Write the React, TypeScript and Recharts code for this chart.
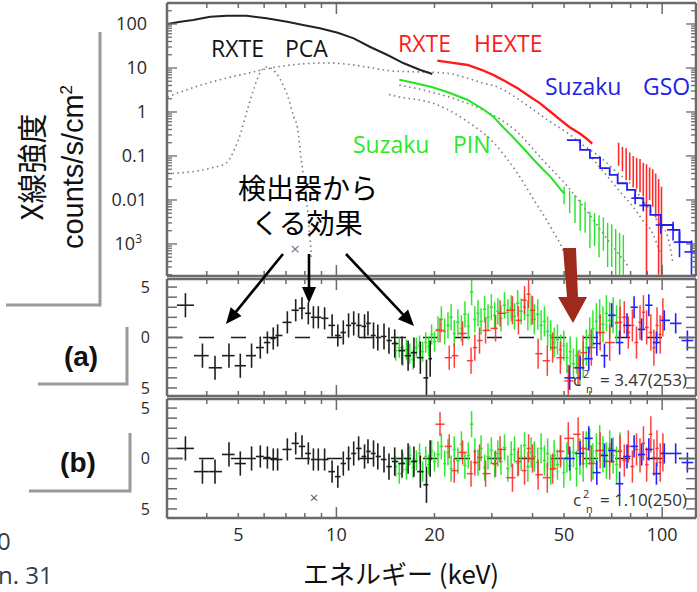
import React from 'react';
import { ComposedChart, Line, Scatter, XAxis, YAxis, ErrorBar, ReferenceLine } from 'recharts';

const W = 697;
const FRAME = '#6a6a6a';
const NUM_FONT = '"Open Sans", "DejaVu Sans", sans-serif';
const JP_FONT = '"Noto Sans CJK JP", "Noto Sans", sans-serif';

// ---------- axes ----------
const X_DOMAIN = [3.02, 127];
const X_TICKS = [4, 5, 6, 7, 8, 9, 10, 20, 30, 40, 50, 60, 70, 80, 90, 100];
const X_LABELS = [5, 10, 20, 50, 100];
const Y_TOP_DOMAIN = [1.87e-4, 300];
const Y_TOP_MAJOR = [0.001, 0.01, 0.1, 1, 10, 100];
const Y_TOP_LABELS = ['10³', '0.01', '0.1', '1', '10', '100'];
const Y_MINOR_MULT = [2, 3, 4, 5, 6, 7, 8, 9];
const Y_DECADES = [1e-4, 1e-3, 1e-2, 1e-1, 1, 10, 100];
const RES_TICKS = [-5, -4, -3, -2, -1, 0, 1, 2, 3, 4, 5];
const RES_LABELS = [-5, 0, 5];
const RES_A_DOMAIN = [-5.8, 5.8];
const RES_B_DOMAIN = [-5.9, 5.9];

// ---------- top panel spectra ----------
const pcaE = [3.03, 3.32, 3.63, 4.1, 4.62, 5.3, 6.1, 7.06, 7.9, 8.9, 10.1, 11.3, 12.7, 14.3, 16.1, 18.1, 19.7];
const pcaV = [100, 113, 123, 146, 154, 154, 135, 113, 95, 80, 63, 47, 30, 20, 12.8, 9, 7.3];

const hexteE = [20.4, 22.5, 25.3, 28, 30.4, 33, 35.9, 39, 42.2, 45.5, 48.7, 52, 56, 58.5, 61];
const hexteV = [14.7, 13.2, 11.7, 9.0, 6.9, 5.0, 3.5, 2.3, 1.57, 1.0, 0.66, 0.45, 0.32, 0.25, 0.19];

const hexteHiE = [73.5, 75.5, 77.5, 79.5, 81.5, 83.5, 85.5, 87.5, 89.5, 91.5, 93.5, 95.5, 97.5, 99.5];
const hexteHiV = [0.11, 0.085, 0.075, 0.06, 0.055, 0.045, 0.04, 0.034, 0.03, 0.024, 0.02, 0.015, 0.011, 0.007];
const hexteHiLo = [0.06, 0.045, 0.03, 0.028, 0.02, 0.018, 0.015, 0.012, 0.0002, 0.01, 0.007, 0.004, 0.0002, 0.0002];
const hexteHiHi = [0.2, 0.16, 0.15, 0.12, 0.1, 0.09, 0.085, 0.07, 0.065, 0.055, 0.05, 0.04, 0.03, 0.02];

const pinE = [15.6, 17.5, 19.6, 22, 25.2, 28, 30.4, 32.5, 34.8, 37.5, 40.4, 43, 45.5, 48, 50];
const pinV = [5.4, 4.5, 3.7, 2.8, 1.9, 1.2, 0.77, 0.45, 0.27, 0.15, 0.081, 0.05, 0.033, 0.02, 0.014];
const pinHiE = [50, 52, 54, 56, 58, 60, 62, 64, 66, 68, 70, 72, 74, 76];
const pinHiV = [0.014, 0.01, 0.0075, 0.0055, 0.0045, 0.0026, 0.0024, 0.0017, 0.0019, 0.0012, 0.0011, 0.0008, 0.0006, 0.0005];
const pinHiLo = [0.008, 0.005, 0.003, 0.002, 0.0018, 0.0008, 0.0009, 0.0005, 0.0007, 0.0003, 0.0003, 0.0002, 0.0002, 0.0002];
const pinHiHi = [0.02, 0.016, 0.013, 0.01, 0.009, 0.0055, 0.005, 0.0045, 0.004, 0.003, 0.0028, 0.0022, 0.0018, 0.0016];

const gsoE = [51, 56, 60, 64.5, 69, 73, 78, 82.6, 87.5, 92, 99, 108, 113, 123];
const gsoV = [0.23, 0.137, 0.091, 0.053, 0.037, 0.024, 0.017, 0.011, 0.0075, 0.0046, 0.0027, 0.0021, 0.0011, 0.00066];
const gsoErrE = [82.6, 87.5, 99, 108, 113, 123];
const gsoErrV = [0.011, 0.0075, 0.0027, 0.0021, 0.0011, 0.00066];
const gsoErrLo = [0.008, 0.0055, 0.0017, 0.0012, 0.0005, 0.0002];
const gsoErrHi = [0.014, 0.0095, 0.0038, 0.0032, 0.0019, 0.0012];
const gsoErrW = [2.2, 2.4, 3.5, 4.5, 4.5, 6];

// gray dotted model components
const humpE = [3.03, 3.6, 4.6, 5.3, 6.3, 8, 9.4, 11, 12.4, 15, 17.5, 20.4, 22.4, 25, 28, 31.8, 35, 40.4, 45, 51.3, 57, 64.5, 72, 81.5, 87, 93.3, 98, 103, 108];
const humpV = [2.2, 3.5, 5.9, 7.5, 10, 12.5, 13, 12, 10.5, 8.5, 8.2, 7.9, 7.4, 6.0, 4.6, 3.5, 2.3, 1.1, 0.62, 0.33, 0.18, 0.095, 0.045, 0.02, 0.01, 0.005, 0.0028, 0.0018, 0.00035];
const lineE = [3.03, 3.3, 4.1, 4.6, 4.9, 5.0, 5.36, 5.7, 5.84, 6.1, 6.5, 6.9, 7.1, 7.4, 7.6, 7.8, 7.9, 8.1, 8.4];
const lineV = [0.04, 0.041, 0.053, 0.07, 0.16, 0.23, 1.3, 5.3, 8, 10.5, 8, 3.7, 2.2, 0.77, 0.43, 0.08, 0.041, 0.01, 0.00043];
const comp2E = [14.5, 15.6, 19.7, 25.3, 30.4, 35.9, 40.4, 45.5, 50, 51.3];
const comp2V = [2.5, 2.2, 1.6, 0.6, 0.2, 0.041, 0.01, 0.0024, 0.00063, 0.00037];
const comp3E = [15.6, 19.7, 24, 28.3, 35.9, 43, 51.3, 59.4, 68.3, 79];
const comp3V = [4.1, 2.8, 1.8, 1.1, 0.35, 0.081, 0.02, 0.005, 0.0012, 0.0003];
const comp4E = [61, 65, 69.5, 75, 81.5, 87, 93.3, 98.5];
const comp4V = [0.09, 0.05, 0.028, 0.014, 0.0069, 0.0035, 0.0018, 0.00063];

// ---------- residuals ----------
const pcaResE = [3.44, 3.88, 4.24, 4.68, 5.07, 5.49, 5.84, 6.14, 6.4, 6.6, 7.07, 7.5, 7.84, 8.2, 8.5, 8.8, 9.2, 9.7, 10.1, 10.5, 10.9, 11.3, 11.7, 12.2, 12.5, 13.0, 13.4, 14.0, 14.5, 15.1, 15.9, 16.6, 17.3, 18.1, 18.9, 19.4];
const pcaResA = [3.2, -1.8, -3.0, -1.8, -2.8, -1.8, -1.0, -0.5, -0.1, 0.2, 1.5, 2.7, 2.9, 2.4, 2.0, 2.0, 1.9, 1.2, 0.2, 0.5, 1.2, 1.4, 1.2, 1.1, 1.4, 0.2, 0.0, 0.1, -0.3, -0.6, -1.3, -1.8, -1.5, -2.0, -4.0, -2.1];
const pcaResB = [1.0, -1.3, -1.3, 0.4, -0.5, 0.0, 0.2, 0.1, -0.1, -0.1, 0.9, 1.5, 1.2, 0.5, -0.1, -0.1, -0.1, -1.3, -1.8, -0.5, 0.0, 0.5, 1.0, 0.2, 0.7, 0.5, 0.2, -0.1, -0.8, -0.3, -0.5, 0.0, -0.3, -1.3, -2.6, 0.0];
const pcaResErr = [1.2, 1.2, 1.2, 1.2, 1.2, 1.2, 1.1, 1.1, 1.1, 1.1, 1.1, 1.1, 1.1, 1.1, 1.1, 1.1, 1.1, 1.1, 1.1, 1.2, 1.2, 1.2, 1.2, 1.2, 1.2, 1.3, 1.3, 1.3, 1.3, 1.4, 1.4, 1.5, 1.5, 1.6, 1.8, 1.8];

const pinResE = [15.2, 15.6, 16.0, 16.4, 16.8, 17.2, 17.6, 18.0, 18.4, 18.8, 19.2, 19.6, 20.0, 20.5, 21.0, 21.5, 22.0, 22.5, 23.0, 23.6, 24.2, 24.8, 25.4, 26.0, 26.6, 27.2, 27.8, 28.5, 29.2, 29.9, 30.6, 31.3, 32.0, 32.8, 33.6, 34.4, 35.2, 36.0, 36.9, 37.8, 38.7, 39.6, 40.5, 41.5, 42.5, 43.5, 44.5, 45.5, 46.6, 47.7, 48.8, 49.9, 51.0, 52.2, 53.4, 54.6, 55.9, 57.2, 58.5, 59.9, 61.3, 62.8, 64.3, 65.8, 67.4, 69.0, 70.7, 72.4, 74.2];
const pinResA = [-1.3, -1.0, -1.8, -1.2, -1.6, -2.2, -1.0, -0.8, -1.4, -0.5, -0.9, 0.3, -0.4, 0.8, 1.8, 0.6, 1.2, 2.0, 0.4, 1.5, 0.9, 2.3, 1.1, 4.5, 1.8, 2.4, 1.6, 2.8, 2.0, 3.0, 2.2, 2.6, 1.9, 3.2, 2.5, 2.9, 2.1, 3.4, 2.6, 3.0, 2.2, 2.7, 1.8, 2.3, 1.2, 1.6, 0.6, 0.2, -0.5, -0.2, -1.2, -0.8, -2.0, -1.4, -2.6, -1.8, -3.0, -2.2, -1.0, 0.2, 0.9, 1.6, 2.0, 1.3, 2.4, 1.7, 2.2, 1.4, 2.0];
const pinResB = [-0.8, -1.5, -0.4, -1.1, 0.3, -0.9, -0.2, 0.5, -1.3, 0.2, -0.6, 0.8, -0.3, 0.4, 1.2, -0.5, 0.6, -1.0, 0.9, -0.2, 1.4, -0.7, 0.3, 3.4, 0.7, -0.4, 1.0, -0.9, 0.2, 0.8, -0.6, 0.5, -0.3, 1.1, -1.0, 0.4, 0.9, -0.5, 0.1, 1.3, -0.8, 0.6, 0.2, -0.4, 1.0, -0.2, 0.5, -1.1, 0.3, -0.6, 0.8, -1.4, 0.1, -0.7, 0.6, -1.0, 0.2, -0.5, 0.9, 1.2, -0.3, 0.7, 1.5, 0.4, -0.2, 1.0, 0.3, -0.6, 0.8];
const pinResErr = [1.0, 1.0, 1.0, 1.0, 1.0, 1.0, 1.0, 1.0, 1.0, 1.0, 1.0, 1.0, 1.0, 1.3, 1.3, 1.3, 1.3, 1.3, 1.3, 1.3, 1.3, 1.3, 1.3, 1.3, 1.3, 1.3, 1.3, 1.3, 1.3, 1.3, 1.3, 1.3, 1.3, 1.3, 1.3, 1.3, 1.3, 1.3, 1.3, 1.3, 1.5, 1.5, 1.5, 1.5, 1.5, 1.5, 1.5, 1.5, 1.5, 1.5, 1.5, 1.5, 1.5, 1.5, 1.5, 1.8, 1.8, 1.8, 1.8, 1.8, 1.8, 1.8, 1.8, 1.8, 1.8, 1.8, 1.8, 1.8, 1.8];

const hexteResE = [20.8, 22.2, 23.0, 24.4, 25.9, 26.6, 27.5, 28.7, 30.8, 31.8, 34.7, 36.2, 37.8, 38.9, 40.0, 41.6, 44.4, 46.1, 48.7, 51.5, 55.2, 57.2, 60.6, 64.5, 69.0, 74.3, 76.5, 78.7, 81.0, 83.4, 85.5, 87.6, 89.6, 92.3, 94.3, 96.4, 98.6, 100.5];
const hexteResA = [0.7, -2.0, -1.8, 0.4, -2.3, -1.0, -0.3, 0.7, 0.9, 2.4, 2.7, 1.7, 3.7, 4.3, 2.7, -1.6, -2.3, -1.0, -2.0, -4.3, -3.0, -1.5, -1.0, 0.5, -0.5, 1.5, 2.0, 0.5, 1.2, -0.5, 1.5, 2.5, 1.0, 0.5, -1.0, 1.2, 0.3, 2.0];
const hexteResB = [3.4, 1.2, -1.2, 0.6, -1.5, -0.4, 0.1, -1.5, -0.5, 0.9, -1.9, -0.3, -1.2, 1.0, 0.0, -1.6, -1.9, -1.0, 0.7, 2.0, 2.4, 1.0, -0.5, 0.8, -0.3, 0.7, -0.2, 1.2, -0.8, 0.9, 0.3, 1.5, -0.6, 2.4, 0.1, 1.0, -0.4, 0.6];
const hexteResErr = [1.2, 1.2, 1.2, 1.2, 1.3, 1.3, 1.3, 1.3, 1.3, 1.3, 1.4, 1.4, 1.4, 1.4, 1.4, 1.5, 1.5, 1.5, 1.6, 1.6, 1.7, 1.7, 1.8, 1.8, 1.8, 1.6, 1.6, 1.6, 1.6, 1.6, 1.7, 1.7, 1.7, 1.8, 1.8, 1.8, 1.9, 1.9];

const gsoResE = [52, 56, 59.5, 63, 66.5, 70, 74, 78, 82, 86.5, 91, 96, 101.5, 110, 119.5];
const gsoResA = [-4.0, -3.0, -2.1, -0.6, -1.8, 2.2, -0.5, 1.2, 3.0, 0.8, 3.2, -0.5, 1.7, 1.4, -0.3];
const gsoResB = [0.0, 0.5, 2.0, -1.4, 0.3, 0.8, -2.5, 0.2, 1.2, 0.4, 0.9, -1.5, 0.5, 0.5, -0.4];
const gsoResErr = [1.2, 1.2, 1.2, 1.2, 1.2, 1.2, 1.2, 1.2, 1.1, 1.1, 1.1, 1.1, 1.0, 1.0, 1.0];

// ---------- builders ----------
const pairs = (E: number[], V: number[]) => E.map((e, i) => ({ e, v: V[i] }));
const withYBounds = (E: number[], V: number[], lo: number[], hi: number[], xw?: number[]) =>
  E.map((e, i) => ({ e, v: V[i], ey: [V[i] - lo[i], hi[i] - V[i]], ex: xw ? [xw[i], xw[i]] : [0, 0] }));
const binned = (E: number[], V: number[], err: number[]) =>
  E.map((e, i) => {
    const lo = i > 0 ? Math.sqrt(E[i - 1] * e) : (e * e) / Math.sqrt(e * E[i + 1]);
    const hi = i < E.length - 1 ? Math.sqrt(e * E[i + 1]) : (e * e) / Math.sqrt(E[i - 1] * e);
    return { e, v: V[i], ey: err[i], ex: [e - lo, hi - e] };
  });

const Y_TOP_TICKS: number[] = [];
Y_DECADES.forEach((d) => {
  Y_TOP_TICKS.push(d);
  Y_MINOR_MULT.forEach((m) => Y_TOP_TICKS.push(d * m));
});

const isDecade = (v: number) => Math.abs(Math.log10(v) - Math.round(Math.log10(v))) < 1e-6;

// ---------- tick renderers ----------
const xTickBottom = (labels: boolean) => (p: any) => {
  const v = p.payload.value;
  const len = v === 10 || v === 100 ? 11 : 5;
  return (
    <g>
      <line x1={p.x} y1={p.y} x2={p.x} y2={p.y - len} stroke={FRAME} strokeWidth={1.5} />
      {labels && X_LABELS.includes(v) ? (
        <text x={p.x} y={p.y + 17} dy="0.35em" textAnchor="middle" fontSize={18} fontFamily={NUM_FONT} fill="#2a2a2a">
          {v}
        </text>
      ) : null}
    </g>
  );
};
const xTickTop = (p: any) => {
  const v = p.payload.value;
  const len = v === 10 || v === 100 ? 11 : 5;
  return <line x1={p.x} y1={p.y} x2={p.x} y2={p.y + len} stroke={FRAME} strokeWidth={1.5} />;
};
const yTopTick = (side: 'l' | 'r') => (p: any) => {
  const v = p.payload.value;
  const major = isDecade(v);
  const len = major ? 10 : 5;
  const dir = side === 'l' ? 1 : -1;
  const idx = Y_TOP_MAJOR.findIndex((m) => Math.abs(m - v) / m < 1e-6);
  return (
    <g>
      <line x1={p.x} y1={p.y} x2={p.x + dir * len} y2={p.y} stroke={FRAME} strokeWidth={1.3} />
      {side === 'l' && idx >= 0 ? (
        idx === 0 ? (
          <text x={p.x - 25} y={p.y} dy="0.35em" textAnchor="end" fontSize={18} fontFamily={NUM_FONT} fill="#2a2a2a">
            10
            <tspan dy={-7} fontSize={12}>3</tspan>
          </text>
        ) : (
          <text x={p.x - 20} y={p.y} dy="0.35em" textAnchor="end" fontSize={18} fontFamily={NUM_FONT} fill="#2a2a2a">
            {Y_TOP_LABELS[idx]}
          </text>
        )
      ) : null}
    </g>
  );
};
const yResTick = (side: 'l' | 'r') => (p: any) => {
  const v = p.payload.value;
  const len = v === 0 ? 16 : 10;
  const dir = side === 'l' ? 1 : -1;
  return (
    <g>
      <line x1={p.x} y1={p.y} x2={p.x + dir * len} y2={p.y} stroke={FRAME} strokeWidth={1.5} />
      {side === 'l' && RES_LABELS.includes(v) ? (
        <text x={p.x - 17} y={p.y} dy="0.35em" textAnchor="end" fontSize={16} fontFamily={NUM_FONT} fill="#2a2a2a">
          {Math.abs(v)}
        </text>
      ) : null}
    </g>
  );
};

const AXIS_LINE = { stroke: FRAME, strokeWidth: 2.5 };
const NoShape = () => null;

function Dotted({ data }: { data: any[] }) {
  return (
    <Line data={data} dataKey="v" type="monotone" stroke="#7c7c7c" strokeWidth={1.6} strokeDasharray="1.5 3.5" dot={false} isAnimationActive={false} />
  );
}

function ErrPoints({ data, color, width = 1.6, opacity = 1 }: any) {
  return (
    <Scatter data={data} dataKey="v" shape={NoShape} isAnimationActive={false} fill={color}>
      <ErrorBar dataKey="ey" direction="y" width={0} stroke={color} strokeWidth={width} strokeOpacity={opacity} isAnimationActive={false} />
      <ErrorBar dataKey="ex" direction="x" width={0} stroke={color} strokeWidth={width} strokeOpacity={opacity} isAnimationActive={false} />
    </Scatter>
  );
}

// Axis sizes are 1px (Recharts skips axes of zero size); margins compensate so the plot frame
// sits at x 167..696.
function frameAxes(opts: any) {
  const { yScale, yDomain, yTicks, yTickL, yTickR, xLabels } = opts;
  return [
    <XAxis key="xb" dataKey="e" type="number" scale="log" domain={X_DOMAIN} allowDataOverflow ticks={X_TICKS} interval={0} height={1} tickSize={0} tickMargin={0} tickLine={false} axisLine={AXIS_LINE} tick={xTickBottom(xLabels)} />,
    <XAxis key="xt" xAxisId="t" orientation="top" dataKey="e" type="number" scale="log" domain={X_DOMAIN} allowDataOverflow ticks={X_TICKS} interval={0} height={1} tickSize={0} tickMargin={0} tickLine={false} axisLine={AXIS_LINE} tick={xTickTop} />,
    <YAxis key="yl" dataKey="v" type="number" scale={yScale} domain={yDomain} allowDataOverflow ticks={yTicks} interval={0} width={1} tickSize={0} tickMargin={0} tickLine={false} axisLine={AXIS_LINE} tick={yTickL} />,
    <YAxis key="yr" yAxisId="r" orientation="right" type="number" scale={yScale} domain={yDomain} allowDataOverflow ticks={yTicks} interval={0} width={1} tickSize={0} tickMargin={0} tickLine={false} axisLine={AXIS_LINE} tick={yTickR} />,
  ];
}

// ---------- panels ----------
function TopPanel() {
  return (
    <ComposedChart width={W} height={280} margin={{ top: 2, right: 0, bottom: 3, left: 166 }}>
      {frameAxes({ yScale: 'log', yDomain: Y_TOP_DOMAIN, yTicks: Y_TOP_TICKS, yTickL: yTopTick('l'), yTickR: yTopTick('r'), xLabels: false })}
      {Dotted({ data: pairs(humpE, humpV) })}
      {Dotted({ data: pairs(lineE, lineV) })}
      {Dotted({ data: pairs(comp2E, comp2V) })}
      {Dotted({ data: pairs(comp3E, comp3V) })}
      {Dotted({ data: pairs(comp4E, comp4V) })}
      <Line data={pairs(pcaE, pcaV)} dataKey="v" type="linear" stroke="#222" strokeWidth={2} dot={false} isAnimationActive={false} />
      <Line data={pairs(pinE, pinV)} dataKey="v" type="linear" stroke="#22e622" strokeWidth={2} dot={false} isAnimationActive={false} />
      {ErrPoints({ data: withYBounds(pinHiE, pinHiV, pinHiLo, pinHiHi), color: '#22e622', width: 1.4 })}
      <Line data={pairs(hexteE, hexteV)} dataKey="v" type="linear" stroke="#ff1a1a" strokeWidth={2.4} dot={false} isAnimationActive={false} />
      {ErrPoints({ data: withYBounds(hexteHiE, hexteHiV, hexteHiLo, hexteHiHi), color: '#ff2a2a', width: 1.6 })}
      <Line data={pairs(gsoE, gsoV)} dataKey="v" type="stepAfter" stroke="#2020ee" strokeWidth={1.8} dot={false} isAnimationActive={false} />
      {ErrPoints({ data: withYBounds(gsoErrE, gsoErrV, gsoErrLo, gsoErrHi, gsoErrW), color: '#2020ee', width: 1.6 })}
    </ComposedChart>
  );
}

function ResPanel({ height, mb, domain, labels, black, green, red, blue }: any) {
  return (
    <ComposedChart width={W} height={height} margin={{ top: 12, right: 0, bottom: mb, left: 166 }}>
      {frameAxes({ yScale: 'linear', yDomain: domain, yTicks: RES_TICKS, yTickL: yResTick('l'), yTickR: yResTick('r'), xLabels: labels })}
      <ReferenceLine y={0} stroke="#1a1a1a" strokeWidth={1.6} strokeDasharray="15 17" />
      {ErrPoints({ data: green, color: '#2ee82e', width: 1.5 })}
      {ErrPoints({ data: red, color: '#ff2a2a', width: 1.5, opacity: 0.9 })}
      {ErrPoints({ data: blue, color: '#2222ff', width: 1.6 })}
      {ErrPoints({ data: black, color: '#1e1e1e', width: 1.6 })}
    </ComposedChart>
  );
}

function Arrow({ x1, y1, x2, y2 }: any) {
  const dx = x2 - x1;
  const dy = y2 - y1;
  const L = Math.hypot(dx, dy);
  const ux = dx / L;
  const uy = dy / L;
  const hl = 16;
  const hw = 7;
  const bx = x2 - ux * hl;
  const by = y2 - uy * hl;
  return (
    <g>
      <line x1={x1} y1={y1} x2={bx + ux * 2} y2={by + uy * 2} stroke="#000" strokeWidth={2.6} />
      <polygon points={`${x2},${y2} ${bx - uy * hw},${by + ux * hw} ${bx + uy * hw},${by - ux * hw}`} fill="#000" />
    </g>
  );
}

function Overlay() {
  const gray = '#9a9a9a';
  return (
    <svg width={W} height={592} style={{ position: 'absolute', left: 0, top: 0, pointerEvents: 'none' }}>
      <text transform="translate(32,167) rotate(-90)" textAnchor="middle" dy="0.35em" fontSize={30} fontFamily={JP_FONT} fill="#111">X線強度</text>
      <text transform="translate(73,167) rotate(-90)" textAnchor="middle" dy="0.35em" fontSize={29} fontFamily='"Liberation Sans", Arial, sans-serif' fill="#111">
        counts/s/cm<tspan dy={-11} fontSize={17}>2</tspan>
      </text>
      <polyline points="100,32 100,305 6,305" fill="none" stroke={gray} strokeWidth={3} />
      <polyline points="127,327 127,384 38,384" fill="none" stroke={gray} strokeWidth={3} />
      <polyline points="130,433 130,491 29,491" fill="none" stroke={gray} strokeWidth={3} />
      <text x={81} y={356} dy="0.35em" textAnchor="middle" fontSize={28} fontWeight="bold" fontFamily='"Liberation Sans", Arial, sans-serif' fill="#111">(a)</text>
      <text x={78} y={462} dy="0.35em" textAnchor="middle" fontSize={28} fontWeight="bold" fontFamily='"Liberation Sans", Arial, sans-serif' fill="#111">(b)</text>
      <text x={-3} y={550} fontSize={24} fontFamily={NUM_FONT} fill="#2f3e4e">0</text>
      <text x={-2} y={584} fontSize={24} fontFamily={NUM_FONT} fill="#2f3e4e">n. 31</text>

      <g fontFamily={NUM_FONT} fontSize={23}>
        <text x={211} y={57} fill="#151515">RXTE</text>
        <text x={285} y={57} fill="#151515">PCA</text>
        <text x={398} y={52} fill="#ff1a1a">RXTE</text>
        <text x={474} y={52} fill="#ff1a1a">HEXTE</text>
        <text x={545} y={95} fill="#2222e6">Suzaku</text>
        <text x={643} y={95} fill="#2222e6">GSO</text>
        <text x={353} y={153} fill="#2be82b">Suzaku</text>
        <text x={453} y={153} fill="#2be82b">PIN</text>
      </g>

      <text x={308} y={199} textAnchor="middle" fontSize={28} fontFamily={JP_FONT} fill="#000">検出器から</text>
      <text x={307} y={234} textAnchor="middle" fontSize={28} fontFamily={JP_FONT} fill="#000">くる効果</text>
      <text x={295} y={249} dy="0.35em" textAnchor="middle" fontSize={17} fontFamily={NUM_FONT} fill="#777">×</text>
      <text x={314} y={498} dy="0.35em" textAnchor="middle" fontSize={15} fontFamily={NUM_FONT} fill="#555">×</text>
      <Arrow x1={283} y1={254} x2={226} y2={324} />
      <Arrow x1={309} y1={254} x2={309} y2={303} />
      <Arrow x1={346} y1={254} x2={414} y2={326} />
      <polygon points="563,248 576,248 578,297 587,297 573,323 558,297 567,297" fill="#9e2a1b" />

      <g fontFamily={NUM_FONT} fill="#333">
        <text x={573} y={386} fontSize={17}>c</text>
        <text x={583} y={378} fontSize={11}>2</text>
        <text x={586} y={393} fontSize={11}>n</text>
        <text x={600} y={386} fontSize={17}>= 3.47(253)</text>
        <text x={573} y={506} fontSize={17}>c</text>
        <text x={583} y={498} fontSize={11}>2</text>
        <text x={586} y={513} fontSize={11}>n</text>
        <text x={600} y={506} fontSize={17}>= 1.10(250)</text>
      </g>

      <text x={303} y={584} fontSize={26} fontFamily={JP_FONT} fill="#111">エネルギー (keV)</text>
    </svg>
  );
}

export default function App() {
  const blackA = binned(pcaResE, pcaResA, pcaResErr);
  const blackB = binned(pcaResE, pcaResB, pcaResErr);
  const greenA = binned(pinResE, pinResA, pinResErr);
  const greenB = binned(pinResE, pinResB, pinResErr);
  const redA = binned(hexteResE, hexteResA, hexteResErr);
  const redB = binned(hexteResE, hexteResB, hexteResErr);
  const blueA = binned(gsoResE, gsoResA, gsoResErr);
  const blueB = binned(gsoResE, gsoResB, gsoResErr);
  return (
    <div style={{ position: 'absolute', left: 0, top: 0, width: W, height: 592, background: '#fff', overflow: 'hidden' }}>
      <div style={{ position: 'absolute', left: 0, top: 0 }}>
        <TopPanel />
      </div>
      <div style={{ position: 'absolute', left: 0, top: 266 }}>
        {ResPanel({ height: 134, mb: 3, domain: RES_A_DOMAIN, labels: false, black: blackA, green: greenA, red: redA, blue: blueA })}
      </div>
      <div style={{ position: 'absolute', left: 0, top: 386 }}>
        {ResPanel({ height: 160, mb: 27, domain: RES_B_DOMAIN, labels: true, black: blackB, green: greenB, red: redB, blue: blueB })}
      </div>
      <Overlay />
    </div>
  );
}
